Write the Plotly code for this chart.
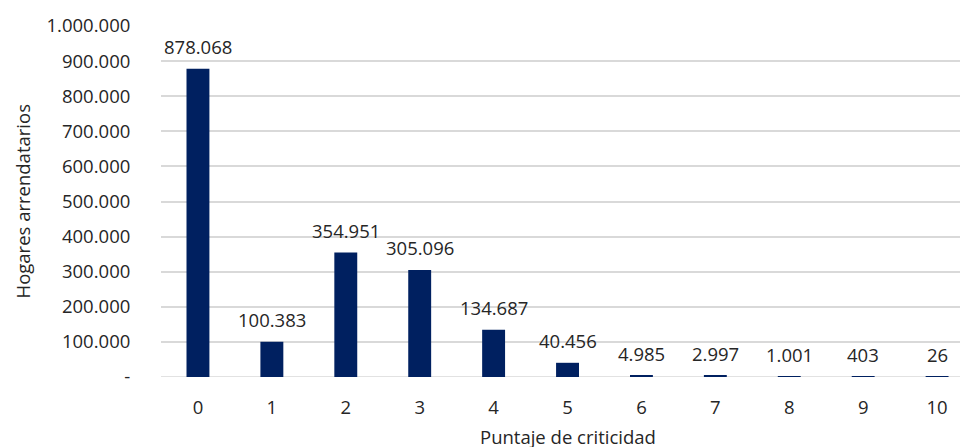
import plotly.graph_objects as go

categories = ["0", "1", "2", "3", "4", "5", "6", "7", "8", "9", "10"]
values = [878068, 100383, 354951, 305096, 134687, 40456, 4985, 2997, 1001, 403, 26]
labels = ["878.068", "100.383", "354.951", "305.096", "134.687", "40.456",
          "4.985", "2.997", "1.001", "403", "26"]
ytickvals = [0, 100000, 200000, 300000, 400000, 500000, 600000, 700000, 800000, 900000, 1000000]
yticktext = ["-", "100.000", "200.000", "300.000", "400.000", "500.000",
             "600.000", "700.000", "800.000", "900.000", "1.000.000"]
xtitle = "Puntaje de criticidad"
ytitle = "Hogares arrendatarios"

FONT = "Open Sans"
FS = 18.5
TXT = "#262626"
navy = "#002060"

xs = list(range(len(categories)))
fig = go.Figure(go.Bar(
    x=xs, y=values,
    marker=dict(color=navy, line=dict(width=0)),
    width=0.31,
))

annotations = [
    dict(text=t, x=x, y=v, xref="x", yref="y", yanchor="middle", xanchor="center",
         yshift=22, showarrow=False, font=dict(family=FONT, size=FS, color=TXT))
    for x, v, t in zip(xs, values, labels)
]
annotations += [
    dict(text=xtitle, xref="x", yref="paper", x=5, y=0, yshift=-59,
         xanchor="center", yanchor="middle", showarrow=False,
         font=dict(family=FONT, size=FS, color=TXT)),
    dict(text=ytitle, xref="paper", yref="paper", x=0, xshift=-139, y=0.5,
         xanchor="center", yanchor="middle", textangle=-90, showarrow=False,
         font=dict(family=FONT, size=FS, color=TXT)),
]

fig.update_layout(
    width=960, height=447,
    margin=dict(l=161, r=0, t=26, b=70),
    paper_bgcolor="white", plot_bgcolor="white",
    font=dict(family=FONT, size=FS, color=TXT),
    showlegend=False,
    xaxis=dict(range=[-0.5, 10.31], tickvals=xs,
               ticktext=categories, showgrid=False, zeroline=False,
               ticks="outside", ticklen=14, tickcolor="rgba(0,0,0,0)",
               tickfont=dict(family=FONT, size=FS, color=TXT)),
    yaxis=dict(range=[0, 1000000], tickvals=ytickvals, ticktext=yticktext,
               showgrid=True, gridcolor="#d9d9d9", gridwidth=1.5,
               zeroline=False, showline=False,
               ticks="outside", ticklen=26, tickcolor="rgba(0,0,0,0)",
               tickfont=dict(family=FONT, size=FS, color=TXT)),
    annotations=annotations,
)
fig.add_shape(type="line", xref="paper", yref="y", x0=0, x1=1, y0=0, y1=0,
              line=dict(color="#d9d9d9", width=1.5), layer="below")

fig.write_html("out.html")
